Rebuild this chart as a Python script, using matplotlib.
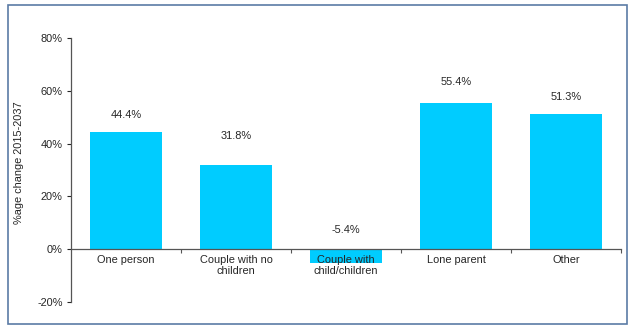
import matplotlib.pyplot as plt
from matplotlib.patches import Rectangle
from matplotlib.ticker import FuncFormatter

plt.rcParams['font.family'] = ['Liberation Sans', 'DejaVu Sans']

categories = ['One person', 'Couple with no\nchildren', 'Couple with\nchild/children', 'Lone parent', 'Other']
pct_change = [44.4, 31.8, -5.4, 55.4, 51.3]
# distance from bar top (or zero line) to the centre of its value label, in points
label_gap = [12.2, 21.1, 13.7, 14.8, 12.0]

bar_color = '#00CCFF'
text_color = '#262626'
fs = 7.9

fig = plt.figure(figsize=(6.37, 3.31), dpi=100)
ax = fig.add_axes([71 / 637, 1 - 302 / 331, 550 / 637, 264 / 331])

x = range(len(categories))
ax.bar(x, pct_change, width=0.66, color=bar_color, zorder=1)

for i, v in enumerate(pct_change):
    ax.annotate('%.1f%%' % v, (i, max(v, 0)), xytext=(0, label_gap[i]),
                textcoords='offset points', ha='center', va='center',
                fontsize=fs, color=text_color)

ax.set_xlim(-0.5, len(categories) - 0.5)
ax.set_ylim(-20, 80)
ax.set_yticks([-20, 0, 20, 40, 60, 80])
ax.yaxis.set_major_formatter(FuncFormatter(lambda v, p: '%d%%' % v))
ax.tick_params(axis='y', labelsize=fs, colors=text_color, length=3, width=0.8, pad=3)

# category names sit under the zero line, ticks mark the boundaries
ax.set_xticks([i + 0.5 for i in range(len(categories))])
ax.set_xticklabels([])
ax.tick_params(axis='x', length=3, width=0.8, color='#555555', direction='out')
ax.spines['bottom'].set_position(('data', 0))
for i, name in enumerate(categories):
    ax.annotate(name, (i, 0), xytext=(0, -4), textcoords='offset points',
                ha='center', va='top', fontsize=fs, color=text_color,
                linespacing=1.1, zorder=3)

for s in ['top', 'right']:
    ax.spines[s].set_visible(False)
for s in ['left', 'bottom']:
    ax.spines[s].set_color('#555555')
    ax.spines[s].set_linewidth(0.9)
ax.spines['bottom'].set_zorder(2)

fig.text(19 / 637, 1 - 163 / 331, '%age change 2015-2037', rotation=90,
         ha='center', va='center', fontsize=fs, color=text_color)

# frame around the whole chart
fig.patches.append(Rectangle((8 / 637, 1 - 324 / 331), 619 / 637, 319 / 331,
                             transform=fig.transFigure, fill=False,
                             edgecolor='#5b7ba6', linewidth=1.2))

fig.savefig('out.png', dpi=100)
plt.close(fig)
